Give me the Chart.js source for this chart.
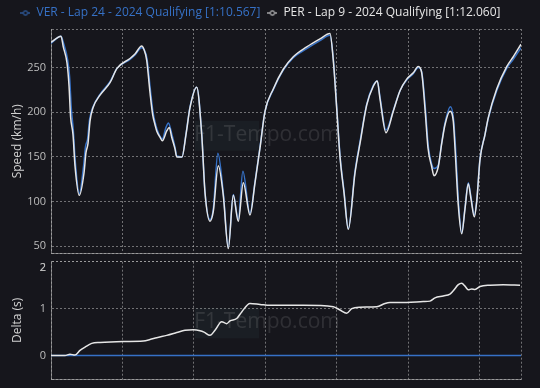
<!DOCTYPE html>
<html>
<head>
<meta charset="utf-8">
<script src="https://cdn.jsdelivr.net/npm/chart.js@4.4.1/dist/chart.umd.min.js"></script>
<style>
  html, body { margin: 0; padding: 0; background: #16161c; }
  #wrap { position: relative; width: 540px; height: 388px; overflow: hidden; }
  .panel { position: absolute; left: 0; width: 540px; }
  #speedBox { top: 0; height: 258px; }
  #deltaBox { top: 258px; height: 130px; }
</style>
</head>
<body>
<div id="wrap">
  <div class="panel" id="speedBox"><canvas id="speedChart"></canvas></div>
  <div class="panel" id="deltaBox"><canvas id="deltaChart"></canvas></div>
</div>
<script>
    // distance along the lap (m)
    const X_MAX = 3290;
    const xTicks = [0, 500, 1000, 1500, 2000, 2500, 3000];

    // PER - Lap 9
    const perDist = [0, 70, 86, 112, 126, 137, 154, 168, 198, 231, 245, 259, 273, 294, 343, 413, 462, 553, 588, 635, 651, 670, 693, 712, 728, 740, 763, 779, 810, 828, 845, 868, 880, 917, 945, 973, 1020, 1055, 1078, 1113, 1136, 1171, 1206, 1241, 1276, 1311, 1346, 1393, 1428, 1463, 1498, 1556, 1626, 1696, 1790, 1883, 1953, 1976, 2000, 2023, 2051, 2081, 2128, 2163, 2210, 2256, 2284, 2303, 2345, 2396, 2443, 2490, 2536, 2571, 2595, 2618, 2639, 2665, 2681, 2711, 2735, 2758, 2793, 2816, 2828, 2851, 2875, 2898, 2921, 2940, 2963, 2980, 3003, 3038, 3061, 3120, 3190, 3236, 3290];
    const perSpeed = [278, 285, 273, 255, 230, 195, 175, 140, 107, 132, 155, 165, 190, 205, 219, 233, 249, 260, 265, 274, 270, 258, 222, 197, 186, 179, 172, 168, 179, 183, 172, 159, 150, 150, 175, 205, 228, 175, 110, 78, 89, 140, 107, 47.5, 107, 78, 121, 85, 121, 160, 201, 226, 248, 262, 273, 282, 288, 258, 204, 150, 110, 69, 132, 165, 208, 229, 235, 215, 177, 201, 224, 237, 244, 251, 244, 204, 160, 139, 129, 139, 165, 186, 201, 190, 160, 96, 64, 92, 120, 103, 83, 100, 147, 175, 194, 226, 251, 262, 276];

    // VER - Lap 24
    const verDist = [0, 70, 90, 115, 130, 142, 156, 170, 198, 228, 242, 256, 270, 294, 343, 413, 462, 553, 588, 635, 651, 672, 695, 714, 730, 742, 763, 779, 805, 822, 845, 868, 880, 917, 945, 973, 1020, 1055, 1078, 1113, 1136, 1168, 1206, 1241, 1276, 1311, 1343, 1393, 1428, 1463, 1498, 1556, 1626, 1696, 1790, 1883, 1953, 1976, 2000, 2023, 2051, 2081, 2128, 2163, 2210, 2256, 2284, 2303, 2345, 2396, 2443, 2490, 2536, 2571, 2595, 2620, 2641, 2665, 2681, 2711, 2735, 2758, 2796, 2818, 2832, 2853, 2875, 2898, 2921, 2940, 2963, 2980, 3003, 3038, 3061, 3120, 3190, 3236, 3290];
    const verSpeed = [277, 285, 276, 260, 240, 205, 180, 145, 109, 140, 162, 170, 192, 206, 220, 234, 249, 259, 264, 272, 270, 260, 226, 200, 188, 181, 173, 170, 183, 188, 176, 161, 151, 150, 176, 206, 228, 176, 111, 80, 92, 154, 110, 49, 108, 80, 134, 87, 122, 161, 201, 225, 247, 261, 271, 280, 286, 260, 206, 152, 112, 70, 134, 167, 209, 230, 235, 217, 180, 202, 224, 236, 243, 250, 245, 206, 162, 142, 137, 141, 166, 188, 206, 192, 160, 98, 65, 93, 121, 105, 85, 101, 148, 175, 193, 224, 249, 259, 272];

    // delta to VER (s)
    const deltaDist = [0, 98, 133, 168, 203, 238, 285, 343, 506, 646, 693, 740, 810, 880, 938, 996, 1043, 1071, 1113, 1148, 1195, 1230, 1253, 1300, 1335, 1393, 1463, 1533, 1766, 1976, 2023, 2070, 2105, 2163, 2280, 2338, 2373, 2490, 2606, 2653, 2688, 2746, 2793, 2816, 2851, 2875, 2898, 2921, 2945, 2968, 3003, 3073, 3166, 3283];
    const perDelta = [0, 0, 0.03, 0.01, 0.11, 0.18, 0.26, 0.28, 0.30, 0.31, 0.34, 0.38, 0.43, 0.49, 0.54, 0.55, 0.53, 0.50, 0.43, 0.54, 0.72, 0.68, 0.74, 0.79, 0.93, 1.11, 1.09, 1.07, 1.07, 1.04, 0.97, 0.90, 1.00, 1.03, 1.04, 1.11, 1.13, 1.13, 1.15, 1.16, 1.23, 1.27, 1.31, 1.38, 1.51, 1.54, 1.48, 1.40, 1.42, 1.41, 1.47, 1.50, 1.51, 1.50];
    const verDeltaDist = [0, X_MAX];
    const verDelta = [0, 0];

    const speedTicks = [50, 100, 150, 200, 250];
    const deltaTicks = [0, 1, 2];

    const VER_COLOR = '#3671C6';
    const PER_COLOR = '#e6e6e6';
    const GRID = 'rgba(190,190,190,0.55)';
    const TICK_COLOR = '#bdbdbd';

    Chart.defaults.font.family = "'Open Sans', 'Noto Sans', sans-serif";
    Chart.defaults.animation = false;

    function toPoints(xs, ys) {
        return xs.map((x, i) => ({ x: x, y: ys[i] }));
    }

    // small "-o-" marker for the legend
    function makeMarker(color) {
        const c = document.createElement('canvas');
        c.width = 10; c.height = 7;
        const g = c.getContext('2d');
        g.strokeStyle = color;
        g.lineWidth = 1;
        g.beginPath(); g.moveTo(0, 3.5); g.lineTo(10, 3.5); g.stroke();
        g.fillStyle = '#16161c';
        g.beginPath(); g.arc(5, 3.5, 2.2, 0, Math.PI * 2); g.fill(); g.stroke();
        return c;
    }

    // faint site watermark behind the lines
    function watermark(dy) {
        return {
            id: 'watermark',
            beforeDatasetsDraw(chart) {
                const a = chart.chartArea;
                const cx = (a.left + a.right) / 2 - 19;
                const cy = (a.top + a.bottom) / 2 + dy;
                const ctx = chart.ctx;
                ctx.save();
                ctx.fillStyle = 'rgba(70,110,110,0.10)';
                ctx.fillRect(cx - 72, cy - 14, 64, 30);
                ctx.font = "21px 'Open Sans', sans-serif";
                ctx.fillStyle = 'rgba(255,255,255,0.11)';
                ctx.textAlign = 'center';
                ctx.textBaseline = 'middle';
                ctx.fillText('F1-Tempo.com', cx, cy);
                ctx.restore();
            }
        };
    }

    // keep the legend row short so the plot starts right under it
    const legendHeight = {
        id: 'legendHeight',
        beforeLayout(chart) {
            if (chart.legend) {
                chart.legend.afterFit = function () { this.height = 21.5; };
            }
        }
    };

    function xScale() {
        return {
            type: 'linear',
            min: 0,
            max: X_MAX,
            afterBuildTicks: function (scale) {
                scale.ticks = xTicks.concat([X_MAX]).map(v => ({ value: v }));
            },
            afterFit: function (scale) {
                scale.height = 0;
                scale.paddingLeft = 0;
                scale.paddingRight = 0;
            },
            ticks: { display: false },
            grid: { color: GRID, drawTicks: false },
            border: { display: true, color: GRID, dash: [2, 2] }
        };
    }

    function yScale(min, max, ticks, title) {
        return {
            type: 'linear',
            min: min,
            max: max,
            afterBuildTicks: function (scale) {
                scale.ticks = [min].concat(ticks, [max]).map(v => ({ value: v }));
            },
            afterFit: function (scale) {
                scale.width = 51;
                scale.paddingTop = 0;
                scale.paddingBottom = 0;
            },
            ticks: {
                color: TICK_COLOR,
                font: { size: 11 },
                padding: 5,
                autoSkip: false,
                callback: function (value) {
                    if (ticks.indexOf(value) < 0) return '';
                    // top delta label sits just inside the panel
                    if (value === max) return ['', String(value)];
                    return String(value);
                }
            },
            grid: { color: GRID, drawTicks: false },
            border: { display: true, color: GRID, dash: [2, 2] },
            title: {
                display: true,
                text: title,
                color: '#d0d0d0',
                font: { size: 12 },
                padding: { top: 10, bottom: 0 }
            }
        };
    }

    const lineStyle = { pointRadius: 0, borderWidth: 1.5, cubicInterpolationMode: 'monotone', fill: false };

    new Chart(document.getElementById('speedChart'), {
        type: 'line',
        data: {
            datasets: [
                Object.assign({
                    label: 'VER - Lap 24 - 2024 Qualifying [1:10.567]',
                    data: toPoints(verDist, verSpeed),
                    borderColor: VER_COLOR,
                    order: 2
                }, lineStyle),
                Object.assign({
                    label: 'PER - Lap 9 - 2024 Qualifying [1:12.060]',
                    data: toPoints(perDist, perSpeed),
                    borderColor: PER_COLOR,
                    order: 1
                }, lineStyle)
            ]
        },
        options: {
            responsive: true,
            maintainAspectRatio: false,
            layout: { padding: { left: 0, right: 19, top: 0, bottom: 4.5 } },
            plugins: {
                legend: {
                    position: 'top',
                    labels: {
                        usePointStyle: true,
                        pointStyleWidth: 10,
                        padding: 7,
                        font: { size: 12 },
                        generateLabels: function (chart) {
                            return chart.data.datasets.map((ds, i) => ({
                                text: ds.label,
                                fontColor: ds.borderColor,
                                fillStyle: ds.borderColor,
                                strokeStyle: ds.borderColor,
                                lineWidth: 0,
                                pointStyle: makeMarker(ds.borderColor),
                                hidden: false,
                                datasetIndex: i
                            }));
                        }
                    }
                },
                tooltip: { enabled: false }
            },
            scales: {
                x: xScale(),
                y: yScale(42, 293, speedTicks, 'Speed (km/h)')
            }
        },
        plugins: [watermark(-6.5), legendHeight]
    });

    new Chart(document.getElementById('deltaChart'), {
        type: 'line',
        data: {
            datasets: [
                Object.assign({
                    label: 'VER',
                    data: toPoints(verDeltaDist, verDelta),
                    borderColor: VER_COLOR,
                    order: 2
                }, lineStyle),
                Object.assign({
                    label: 'PER',
                    data: toPoints(deltaDist, perDelta),
                    borderColor: PER_COLOR,
                    order: 1
                }, lineStyle)
            ]
        },
        options: {
            responsive: true,
            maintainAspectRatio: false,
            layout: { padding: { left: 0, right: 19, top: 3.7, bottom: 9 } },
            plugins: {
                legend: { display: false },
                tooltip: { enabled: false }
            },
            scales: {
                x: xScale(),
                y: yScale(-0.5, 2, deltaTicks, 'Delta (s)')
            }
        },
        plugins: [watermark(2)]
    });
</script>
</body>
</html>
